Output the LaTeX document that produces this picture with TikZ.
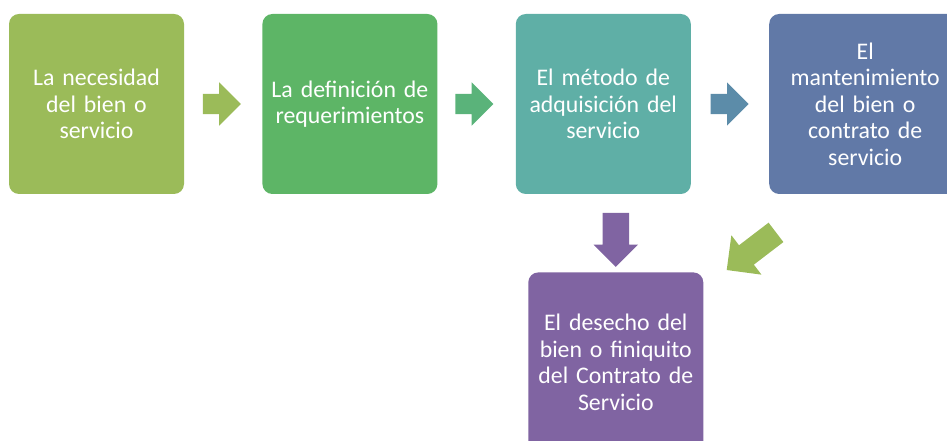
\documentclass[tikz,border=0pt]{standalone}
\usepackage{fontspec}
\setmainfont{Carlito}
\usetikzlibrary{positioning, shapes.arrows, calc}
\usepackage{xcolor}
\definecolor{cNec}{HTML}{9BBB59}
\definecolor{cDef}{HTML}{5DB566}
\definecolor{cMet}{HTML}{5FAFA6}
\definecolor{cMan}{HTML}{6179A7}
\definecolor{cDes}{HTML}{8064A2}
\definecolor{aDef}{HTML}{5AB37A}
\definecolor{aMet}{HTML}{5C8CA9}

\begin{document}
\begin{tikzpicture}[
x=1pt, y=1pt,
node distance=78pt,
box/.style={rectangle, rounded corners=10pt, fill=#1, text=white, minimum width=175pt, minimum height=180pt, text width=165pt, align=center, inner sep=0pt, font=\fontsize{23.8}{26.5}\selectfont},
blockarrow/.style={single arrow, fill=#1, anchor=tip, inner xsep=0pt}
]
    \useasboundingbox (0,0) rectangle (947,441);
    \clip (0,0) rectangle (947,441);

    \node[box=cNec] (nec) at (96.5,337) {La necesidad\\del bien o\\servicio};
    \node[box=cDef, right=of nec] (def) {La definición de\\requerimientos};
    \node[box=cMet, right=of def] (met) {El método de\\adquisición del\\servicio};
    \node[box=cMan, right=of met, minimum width=192pt] (man) {El\\mantenimiento\\del bien o\\contrato de\\servicio};
    \node[box=cDes, below=of met, xshift=12.5pt] (des) {El desecho del\\bien o finiquito\\del Contrato de\\Servicio};

    \node[blockarrow=cNec, minimum height=38pt, inner ysep=10pt, single arrow head extend=11.5pt] (nec-def) at ($(def.west)+(-21pt,0)$) {};
    \node[blockarrow=aDef, minimum height=38pt, inner ysep=10pt, single arrow head extend=11.5pt] (def-met) at ($(met.west)+(-22pt,0)$) {};
    \node[blockarrow=aMet, minimum height=38pt, inner ysep=10pt, single arrow head extend=11.5pt] (met-man) at ($(man.west)+(-20pt,0)$) {};
    \node[blockarrow=cDes, rotate=-90, minimum height=54pt, inner ysep=13pt, single arrow head extend=9pt] (met-des) at ($(des.north)+(0,5pt)$) {};
    \node[blockarrow=cNec, rotate=217.4, minimum height=62pt, inner ysep=12pt, single arrow head extend=12.6pt] (man-des) at ($(des.north east)+(23pt,2pt)$) {};

\end{tikzpicture}
\end{document}
